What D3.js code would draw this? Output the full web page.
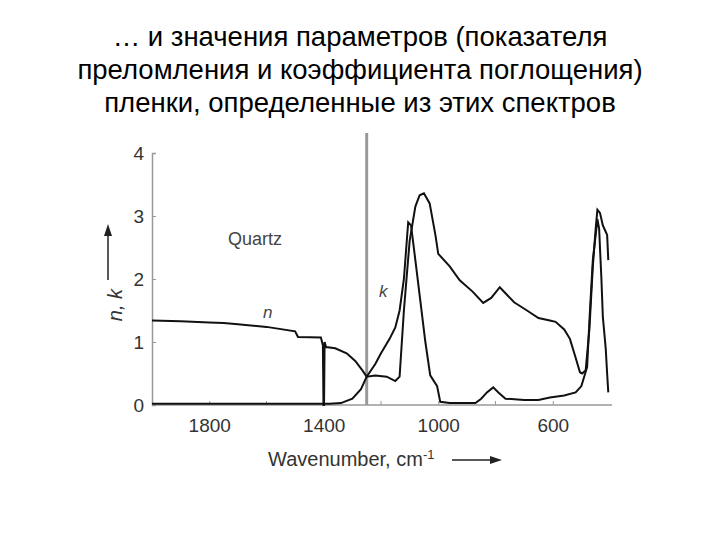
<!DOCTYPE html>
<html><head><meta charset="utf-8">
<script src="https://cdn.jsdelivr.net/npm/d3@7"></script>
<style>body{margin:0;background:#fff}</style></head>
<body><svg id="c" width="720" height="540"></svg>
<script>
const titleLines=["… и значения параметров (показателя","преломления и коэффициента поглощения)","пленки, определенные из этих спектров"];
const xTicks=[1800,1400,1000,600];
const xMinor=[1600,1200,800];
const yTicks=[0,1,2,3,4];
const vLine=1250;
const nWave=[2000,1900,1800,1750,1700,1600,1500,1490,1410,1403,1401,1399,1397,1392,1360,1320,1290,1265,1250,1220,1180,1150,1135,1120,1100,1080,1065,1050,1030,1010,1000,960,925,880,843,815,785,760,735,690,650,610,590,560,540,520,505,497,485,472,460,450,444,435,425,415,410,406];
const nVal=[1.34,1.33,1.31,1.30,1.28,1.24,1.17,1.08,1.07,0.95,0.0,0.0,1.0,0.92,0.9,0.82,0.7,0.55,0.45,0.47,0.45,0.38,0.45,1.5,2.6,3.15,3.33,3.36,3.2,2.7,2.4,2.2,1.98,1.8,1.62,1.7,1.87,1.75,1.63,1.5,1.38,1.34,1.32,1.2,1.05,0.75,0.52,0.5,0.55,1.2,2.2,2.8,3.1,3.05,2.85,2.75,2.7,2.3];
const kWave=[2000,1800,1600,1420,1380,1340,1300,1270,1250,1220,1200,1170,1150,1135,1120,1110,1105,1095,1080,1063,1045,1028,1004,993,960,900,870,850,830,808,790,765,700,650,610,560,520,500,480,470,460,450,444,438,430,425,415,410,406];
const kVal=[0.02,0.02,0.02,0.02,0.02,0.03,0.1,0.25,0.45,0.65,0.82,1.05,1.23,1.5,2.0,2.6,2.9,2.85,2.3,1.67,1.0,0.47,0.3,0.05,0.03,0.03,0.03,0.1,0.2,0.28,0.2,0.1,0.08,0.08,0.12,0.15,0.2,0.3,0.6,1.5,2.3,2.7,2.95,2.8,2.0,1.4,0.9,0.5,0.2];

const svg=d3.select("#c");
const font="Liberation Sans, Arial, sans-serif";
titleLines.forEach((t,i)=>svg.append("text").attr("x",360).attr("y",46+i*33).attr("text-anchor","middle")
  .attr("font-family",font).attr("font-size",27.5).text(t));
const x=d3.scaleLinear().domain([2000,400]).range([152,610]);
const y=d3.scaleLinear().domain([0,4]).range([405,153]);
const gray="#999";
const gy=svg.append("g").attr("transform","translate(152,0)").call(d3.axisLeft(y).tickValues(yTicks).tickSize(-4).tickFormat(d3.format("d")));
gy.select(".domain").attr("stroke",gray).attr("stroke-width",1.5);
gy.selectAll(".tick line").attr("stroke",gray);
gy.selectAll("text").attr("font-family",font).attr("font-size",19).attr("fill","#333").attr("x",-8);
const gx=svg.append("g").attr("transform","translate(0,405)").call(d3.axisBottom(x).tickValues(xTicks).tickSize(-4).tickFormat(d3.format("d")));
gx.select(".domain").remove();
gx.selectAll(".tick line").attr("stroke",gray);
gx.selectAll("text").attr("font-family",font).attr("font-size",19).attr("fill","#333").attr("y",14);
svg.append("g").selectAll("line").data(xMinor).join("line").attr("x1",d=>x(d)).attr("x2",d=>x(d)).attr("y1",405).attr("y2",401).attr("stroke",gray);
svg.append("line").attr("x1",152).attr("x2",612).attr("y1",405).attr("y2",405).attr("stroke",gray).attr("stroke-width",1.5);
svg.append("line").attr("x1",x(vLine)).attr("x2",x(vLine)).attr("y1",133).attr("y2",405).attr("stroke","#999").attr("stroke-width",3);
const lin=d3.line().x(d=>x(d[0])).y(d=>y(d[1]));
svg.append("path").attr("d",lin(nWave.map((w,i)=>[w,nVal[i]]))).attr("fill","none").attr("stroke","#111").attr("stroke-width",2);
svg.append("path").attr("d",lin(kWave.map((w,i)=>[w,kVal[i]]))).attr("fill","none").attr("stroke","#111").attr("stroke-width",2);
svg.append("text").attr("x",228).attr("y",245).attr("font-family",font).attr("font-size",18).attr("fill","#444").text("Quartz");
svg.append("text").attr("x",263).attr("y",318).attr("font-family",font).attr("font-size",17).attr("font-style","italic").attr("fill","#444").text("n");
svg.append("text").attr("x",379).attr("y",297).attr("font-family",font).attr("font-size",17).attr("font-style","italic").attr("fill","#444").text("k");
svg.append("text").attr("transform","translate(122,305) rotate(-90)").attr("text-anchor","middle").attr("font-family",font).attr("font-size",20).attr("font-style","italic").attr("fill","#333").text("n, k");
svg.append("line").attr("x1",108).attr("x2",108).attr("y1",280).attr("y2",232).attr("stroke","#222").attr("stroke-width",1.5);
svg.append("path").attr("d","M104,236 L108,224 L112,236 Z").attr("fill","#222");
svg.append("text").attr("x",268).attr("y",466).attr("font-family",font).attr("font-size",20).attr("fill","#333")
  .html('Wavenumber, cm<tspan baseline-shift="super" font-size="13">-1</tspan>');
svg.append("line").attr("x1",452).attr("x2",495).attr("y1",460).attr("y2",460).attr("stroke","#222").attr("stroke-width",1.5);
svg.append("path").attr("d","M490,456 L502,460 L490,464 Z").attr("fill","#222");
</script></body></html>
